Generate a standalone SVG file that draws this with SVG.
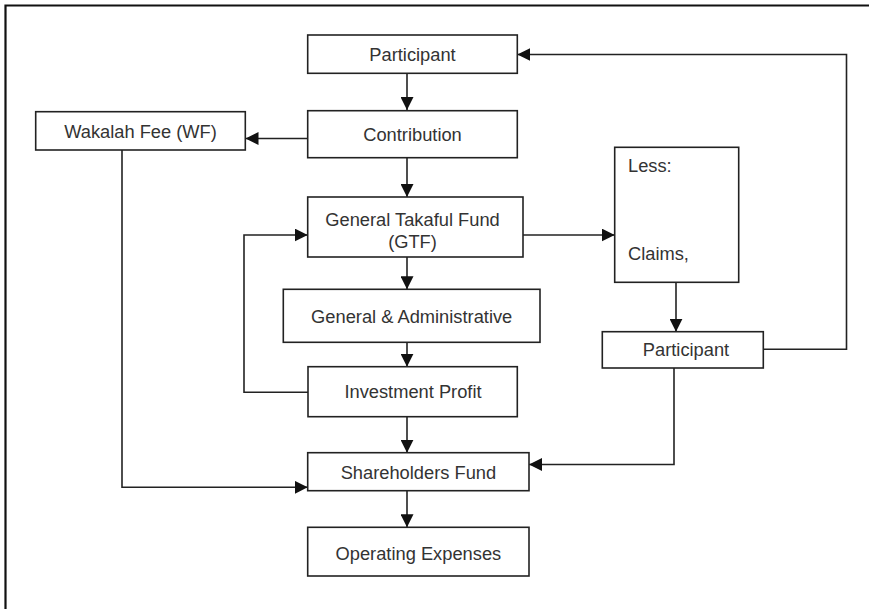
<svg xmlns="http://www.w3.org/2000/svg" width="869" height="609" viewBox="0 0 869 609">
<defs>
<marker id="ah" markerUnits="userSpaceOnUse" markerWidth="13" markerHeight="13" refX="13" refY="6.5" orient="auto" viewBox="0 0 13 13">
<path d="M0,0 L13,6.5 L0,13 z" fill="#111"/>
</marker>
</defs>
<style>
.box{fill:#fff;stroke:#222;stroke-width:1.6}
.t{font-family:"Liberation Sans",Arial,sans-serif;font-size:18.3px;fill:#333}
.c{text-anchor:middle}
.ln{fill:none;stroke:#222;stroke-width:1.6}
.ar{marker-end:url(#ah)}
</style>
<rect width="869" height="609" fill="#fff"/>
<path d="M5.5,609 V5.5 H869" fill="none" stroke="#111" stroke-width="2.2"/>
<g id="connectors">
<path class="ln ar" d="M407,73.3 V110"/>
<path class="ln ar" d="M307.7,138.5 H245.5"/>
<path class="ln ar" d="M407,157.7 V197"/>
<path class="ln ar" d="M407,257 V289.3"/>
<path class="ln ar" d="M407,342.3 V366.7"/>
<path class="ln ar" d="M407,416.7 V452.7"/>
<path class="ln ar" d="M407,490.7 V527.3"/>
<path class="ln ar" d="M308,392.3 H244 V235 H307.7"/>
<path class="ln ar" d="M523,235 H614.7"/>
<path class="ln ar" d="M676,282.3 V331.7"/>
<path class="ln ar" d="M763.3,349.3 H846.5 V54.5 H517.3"/>
<path class="ln ar" d="M674,368 V464.5 H529"/>
<path class="ln ar" d="M122,150 V487.3 H307.7"/>
</g>
<g id="participant-top">
<rect class="box" x="307.7" y="35" width="209.6" height="38.3"/>
<text class="t c" x="412.5" y="60.5">Participant</text>
</g>
<g id="contribution">
<rect class="box" x="307.7" y="110.7" width="209.6" height="47"/>
<text class="t c" x="412.5" y="140.5">Contribution</text>
</g>
<g id="wakalah-fee">
<rect class="box" x="35.7" y="111.7" width="209.6" height="38.3"/>
<text class="t c" x="140.5" y="137.5">Wakalah Fee (WF)</text>
</g>
<g id="gtf">
<rect class="box" x="307.7" y="197" width="215.3" height="60"/>
<text class="t c" x="412.5" y="225.5">General Takaful Fund</text>
<text class="t c" x="412.5" y="248">(GTF)</text>
</g>
<g id="less-claims">
<rect class="box" x="614.7" y="147.3" width="124" height="135"/>
<text class="t" x="628" y="172">Less:</text>
<text class="t" x="628" y="260">Claims,</text>
</g>
<g id="general-admin">
<rect class="box" x="283.3" y="289.3" width="256.7" height="53"/>
<text class="t c" x="411.7" y="322.7">General &amp; Administrative</text>
</g>
<g id="participant-right">
<rect class="box" x="602.3" y="331.7" width="161" height="36.3"/>
<text class="t c" x="686" y="355.5">Participant</text>
</g>
<g id="investment-profit">
<rect class="box" x="308" y="366.7" width="209.3" height="50"/>
<text class="t c" x="413" y="397.5">Investment Profit</text>
</g>
<g id="shareholders-fund">
<rect class="box" x="307.7" y="452.7" width="221.3" height="38"/>
<text class="t c" x="418.4" y="478.5">Shareholders Fund</text>
</g>
<g id="operating-expenses">
<rect class="box" x="307.7" y="527.3" width="221.3" height="48.7"/>
<text class="t c" x="418.4" y="559.5">Operating Expenses</text>
</g>
</svg>
